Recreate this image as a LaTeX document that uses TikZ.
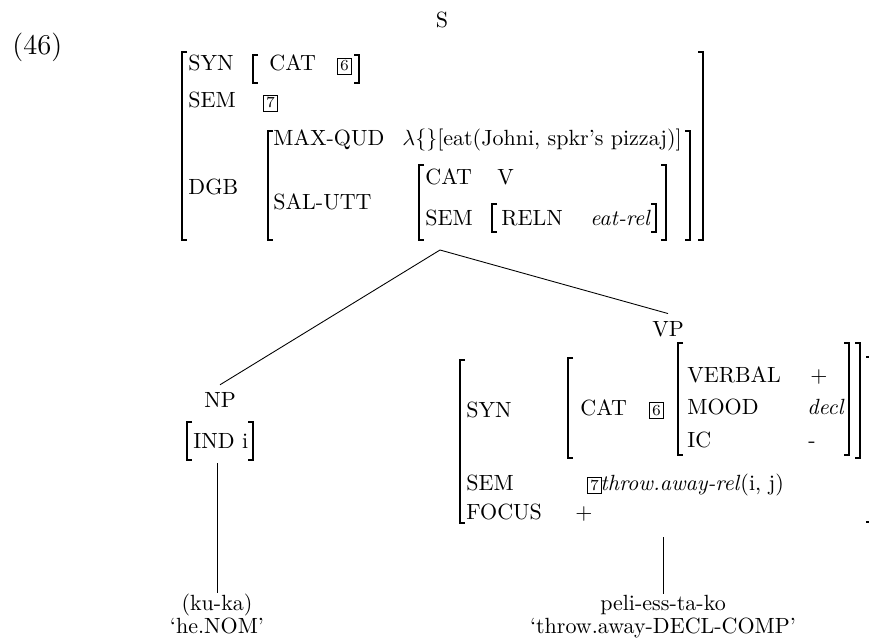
\documentclass[tikz,border=0pt]{standalone}
\begin{document}
\begin{tikzpicture}[x=0.4545pt,y=-0.4545pt,
  t/.style={anchor=base west,inner sep=0pt},
  lbl/.style={inner sep=0pt},
  phr/.style={inner sep=3.3pt},
  btm/.style={anchor=base,inner sep=0pt},
  tagbox/.style={draw,line width=0.4pt,inner sep=1.2pt,anchor=base west,font=\scriptsize},
  brk/.style={line width=0.55pt},
  tree/.style={line width=0.4pt}]
\newcommand\mylb[3]{\draw[brk] (#1+5,#2) -- (#1,#2) -- (#1,#3) -- (#1+5,#3);}
\newcommand\myrb[3]{\draw[brk] (#1-5,#2) -- (#1,#2) -- (#1,#3) -- (#1-5,#3);}
\useasboundingbox (0,0) rectangle (869,643);
\clip (0,0) rectangle (869,643);
% label and S
\node[lbl,anchor=west,font=\fontsize{13}{15}\selectfont] (ex) at (12,47) {(46)};
\node[lbl] (S) at (442,20) {S};
% S AVM
\mylb{182}{52}{240} \myrb{703}{52}{240}
\node[t] (syn1) at (188,71) {SYN};
\mylb{253}{55}{83} \myrb{359}{55}{83}
\node[t] (cat1) at (269,71) {CAT};
\node[tagbox] (tag6a) at (337,71) {6};
\node[t] (sem1) at (188,108) {SEM};
\node[tagbox] (tag7a) at (263,108) {7};
\node[t] (dgb) at (188,194) {DGB};
\mylb{268}{131}{240} \myrb{690}{131}{240}
\node[t] (maxqud) at (273,145) {MAX-QUD};
\node[t] (qudval) at (402,145) {$\lambda$\{\}[eat(Johni, spkr's pizzaj)]};
\node[t] (salutt) at (273,209) {SAL-UTT};
\mylb{419}{165}{240} \myrb{666}{165}{240}
\node[t] (cat2) at (425,184) {CAT};
\node[t] (v) at (497,184) {V};
\node[t] (sem2) at (425,225) {SEM};
\mylb{492}{204}{232} \myrb{656}{204}{232}
\node[t] (reln) at (501,225) {RELN};
\node[t] (eatrel) at (590,225) {\textit{eat-rel}};
% VP
\node[phr] (VP) at (668,329) {VP};
\mylb{460}{360}{523} \myrb{871}{357}{522}
\node[t] (syn2) at (466,417) {SYN};
\mylb{568}{358}{458} \myrb{860}{343}{458}
\node[t] (cat3) at (580,415) {CAT};
\node[tagbox] (tag6b) at (649,415) {6};
\mylb{678}{343}{455} \myrb{849}{343}{455}
\node[t] (verbal) at (687,382) {VERBAL};
\node[t] (plus1) at (810,382) {$+$};
\node[t] (mood) at (687,414) {MOOD};
\node[t] (decl) at (807,414) {\textit{decl}};
\node[t] (ic) at (687,447) {IC};
\node[t] (minus) at (808,447) {-};
\node[t] (sem3) at (466,490) {SEM};
\node[tagbox] (tag7b) at (587,490) {7};
\node[t] (sem3v) at (600,490) {\textit{throw.away-rel}(i, j)};
\node[t] (focus) at (466,519) {FOCUS};
\node[t] (plus2) at (575,519) {$+$};
% NP
\node[phr] (NP) at (220,400) {NP};
\mylb{187}{422}{460} \myrb{253}{422}{460}
\node[t] (ind) at (193,448) {IND i};
% bottom
\node[btm] (kuka) at (217,610) {(ku-ka)};
\node[btm] (henom) at (217,633) {`he.NOM'};
\node[btm] (peli) at (663,610) {peli-ess-ta-ko};
\node[btm] (throw) at (663,633) {`throw.away-DECL-COMP'};
% tree lines
\coordinate (apex) at (440,250);
\coordinate (npb) at (217,463);
\coordinate (vpb) at (663,537);
\draw[tree] (apex) -- (NP.north);
\draw[tree] (apex) -- (VP.north);
\draw[tree] (npb) -- (kuka.north);
\draw[tree] (vpb) -- (peli.north);
\end{tikzpicture}
\end{document}
